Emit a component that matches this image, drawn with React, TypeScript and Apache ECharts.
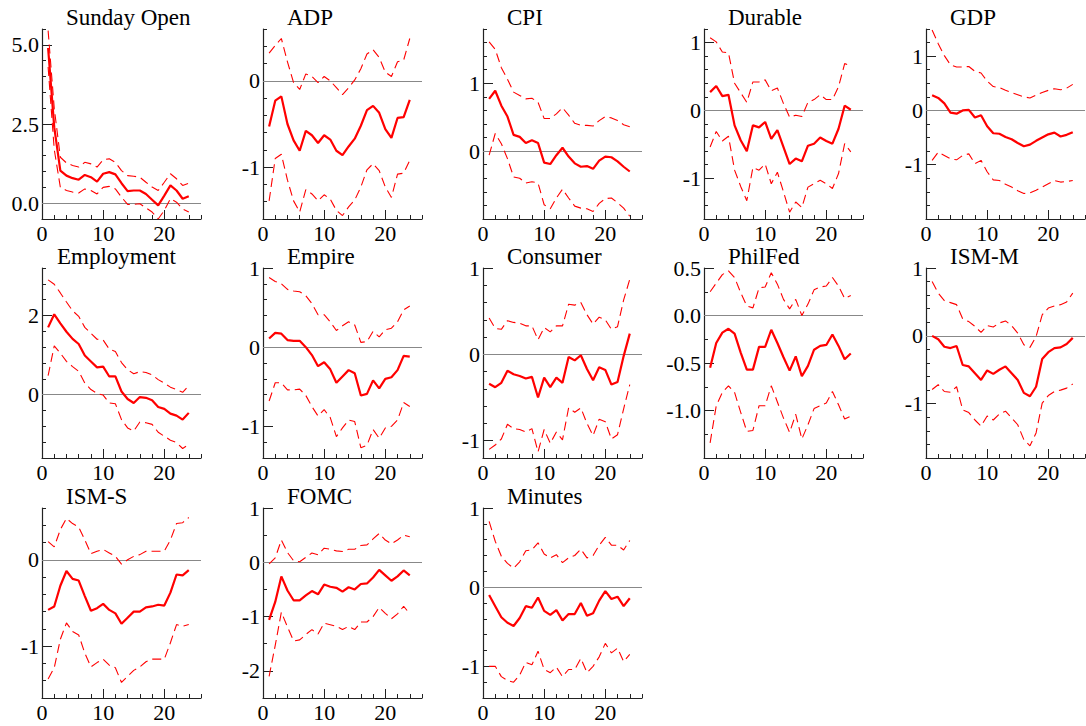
import React, { useEffect, useRef } from "react";
import * as echarts from "echarts";

const horizons = [1, 2, 3, 4, 5, 6, 7, 8, 9, 10, 11, 12, 13, 14, 15, 16, 17, 18, 19, 20, 21, 22, 23, 24];
const xTickLabels = [0, 10, 20];

const sundayMid = [4.9, 2.4, 1.03, 0.87, 0.79, 0.74, 0.89, 0.82, 0.68, 0.93, 0.98, 0.91, 0.63, 0.38, 0.4, 0.4, 0.29, 0.11, -0.07, 0.24, 0.56, 0.4, 0.14, 0.22];
const sundayUp = [5.45, 3.0, 1.45, 1.27, 1.19, 1.14, 1.29, 1.24, 1.14, 1.37, 1.4, 1.29, 1.03, 0.87, 0.85, 0.82, 0.66, 0.51, 0.4, 0.66, 0.93, 0.77, 0.56, 0.63];
const sundayLo = [4.3, 1.7, 0.5, 0.4, 0.35, 0.32, 0.45, 0.4, 0.29, 0.5, 0.53, 0.45, 0.19, -0.04, -0.04, -0.02, -0.15, -0.28, -0.5, -0.23, 0.14, 0.03, -0.18, -0.28];

const adpMid = [-0.53, -0.23, -0.18, -0.5, -0.69, -0.81, -0.58, -0.63, -0.72, -0.63, -0.68, -0.81, -0.86, -0.76, -0.67, -0.52, -0.34, -0.29, -0.37, -0.56, -0.66, -0.43, -0.42, -0.22];
const adpUp = [0.32, 0.41, 0.49, 0.22, -0.02, -0.1, 0.08, 0.05, -0.02, 0.05, 0.0, -0.08, -0.16, -0.08, 0.01, 0.14, 0.31, 0.36, 0.27, 0.1, 0.05, 0.22, 0.24, 0.49];
const adpLo = [-1.39, -0.9, -0.85, -1.15, -1.39, -1.52, -1.26, -1.31, -1.39, -1.32, -1.37, -1.5, -1.56, -1.46, -1.38, -1.23, -1.03, -0.96, -1.04, -1.23, -1.35, -1.08, -1.07, -0.92];

const cpiMid = [0.77, 0.89, 0.67, 0.51, 0.24, 0.21, 0.12, 0.16, 0.12, -0.17, -0.19, -0.06, 0.05, -0.08, -0.18, -0.23, -0.22, -0.26, -0.14, -0.08, -0.09, -0.15, -0.23, -0.3];
const cpiUp = [1.61, 1.5, 1.23, 1.06, 0.87, 0.82, 0.77, 0.78, 0.72, 0.48, 0.48, 0.55, 0.64, 0.53, 0.41, 0.38, 0.38, 0.37, 0.45, 0.51, 0.49, 0.45, 0.39, 0.36];
const cpiLo = [-0.06, 0.26, 0.11, -0.11, -0.38, -0.4, -0.47, -0.45, -0.47, -0.79, -0.85, -0.69, -0.56, -0.69, -0.81, -0.84, -0.85, -0.89, -0.77, -0.7, -0.69, -0.76, -0.84, -0.96];

const durableMid = [0.27, 0.36, 0.21, 0.23, -0.22, -0.44, -0.6, -0.22, -0.25, -0.17, -0.42, -0.29, -0.54, -0.79, -0.71, -0.75, -0.52, -0.49, -0.4, -0.45, -0.49, -0.27, 0.07, 0.01];
const durableUp = [1.07, 1.01, 0.86, 0.85, 0.4, 0.26, 0.12, 0.42, 0.42, 0.45, 0.29, 0.33, 0.1, -0.1, -0.07, -0.09, 0.12, 0.16, 0.23, 0.16, 0.16, 0.35, 0.69, 0.66];
const durableLo = [-0.54, -0.31, -0.45, -0.38, -0.88, -1.12, -1.33, -0.84, -0.88, -0.79, -1.08, -0.91, -1.2, -1.5, -1.35, -1.43, -1.13, -1.08, -1.03, -1.08, -1.15, -0.93, -0.49, -0.61];

const gdpMid = [0.28, 0.23, 0.13, -0.04, -0.06, 0.0, 0.01, -0.13, -0.09, -0.29, -0.42, -0.43, -0.49, -0.53, -0.6, -0.66, -0.63, -0.56, -0.5, -0.44, -0.41, -0.48, -0.45, -0.4];
const gdpUp = [1.48, 1.23, 1.01, 0.84, 0.8, 0.8, 0.81, 0.72, 0.69, 0.54, 0.44, 0.42, 0.37, 0.33, 0.29, 0.25, 0.23, 0.28, 0.33, 0.37, 0.4, 0.38, 0.41, 0.48];
const gdpLo = [-0.92, -0.77, -0.83, -0.89, -0.91, -0.83, -0.8, -0.98, -0.92, -1.13, -1.28, -1.29, -1.36, -1.41, -1.48, -1.53, -1.52, -1.47, -1.41, -1.35, -1.29, -1.32, -1.31, -1.29];

const employmentMid = [1.7, 2.03, 1.8, 1.59, 1.41, 1.28, 0.99, 0.84, 0.69, 0.71, 0.46, 0.46, 0.08, -0.11, -0.21, -0.06, -0.08, -0.14, -0.31, -0.36, -0.48, -0.53, -0.63, -0.46];
const employmentUp = [2.9, 2.79, 2.57, 2.34, 2.12, 1.98, 1.7, 1.55, 1.4, 1.38, 1.15, 1.09, 0.81, 0.63, 0.53, 0.58, 0.56, 0.5, 0.38, 0.29, 0.19, 0.13, 0.06, 0.23];
const employmentLo = [0.48, 1.23, 1.05, 0.84, 0.71, 0.59, 0.29, 0.13, 0.03, -0.01, -0.21, -0.23, -0.63, -0.84, -0.92, -0.69, -0.71, -0.75, -0.95, -1.05, -1.15, -1.21, -1.36, -1.26];

const empireMid = [0.11, 0.18, 0.17, 0.09, 0.08, 0.08, 0.0, -0.1, -0.24, -0.19, -0.28, -0.45, -0.37, -0.29, -0.33, -0.61, -0.59, -0.42, -0.52, -0.4, -0.38, -0.29, -0.11, -0.12];
const empireUp = [0.88, 0.83, 0.8, 0.73, 0.71, 0.7, 0.65, 0.55, 0.41, 0.41, 0.32, 0.21, 0.27, 0.32, 0.28, 0.06, 0.07, 0.2, 0.13, 0.22, 0.24, 0.32, 0.47, 0.52];
const empireLo = [-0.68, -0.45, -0.45, -0.54, -0.54, -0.53, -0.61, -0.75, -0.87, -0.79, -0.89, -1.13, -1.02, -0.92, -0.94, -1.27, -1.24, -1.04, -1.15, -1.02, -1.0, -0.92, -0.7, -0.75];

const consumerMid = [-0.34, -0.38, -0.33, -0.19, -0.23, -0.25, -0.28, -0.26, -0.5, -0.27, -0.38, -0.27, -0.33, -0.03, -0.07, -0.01, -0.17, -0.3, -0.15, -0.18, -0.35, -0.32, -0.02, 0.24];
const consumerUp = [0.42, 0.3, 0.29, 0.39, 0.37, 0.36, 0.33, 0.33, 0.17, 0.31, 0.26, 0.33, 0.33, 0.58, 0.57, 0.6, 0.46, 0.35, 0.43, 0.4, 0.29, 0.32, 0.63, 0.87];
const consumerLo = [-1.1, -1.05, -0.98, -0.81, -0.86, -0.87, -0.9, -0.86, -1.13, -0.87, -1.03, -0.9, -0.99, -0.62, -0.67, -0.62, -0.8, -0.94, -0.75, -0.78, -0.98, -0.93, -0.63, -0.35];

const philfedMid = [-0.55, -0.29, -0.18, -0.14, -0.19, -0.39, -0.57, -0.57, -0.33, -0.33, -0.15, -0.29, -0.44, -0.58, -0.43, -0.64, -0.53, -0.36, -0.32, -0.31, -0.2, -0.32, -0.46, -0.4];
const philfedUp = [0.25, 0.34, 0.43, 0.47, 0.4, 0.24, 0.1, 0.08, 0.29, 0.3, 0.45, 0.33, 0.17, 0.07, 0.17, 0.0, 0.12, 0.27, 0.3, 0.31, 0.4, 0.31, 0.18, 0.21];
const philfedLo = [-1.34, -0.95, -0.81, -0.74, -0.81, -1.02, -1.22, -1.21, -0.95, -0.95, -0.74, -0.91, -1.08, -1.23, -1.04, -1.3, -1.15, -0.98, -0.95, -0.92, -0.8, -0.94, -1.09, -1.06];

const ismmMid = [0.0, -0.05, -0.16, -0.18, -0.15, -0.43, -0.45, -0.55, -0.65, -0.51, -0.56, -0.5, -0.45, -0.55, -0.65, -0.84, -0.89, -0.75, -0.34, -0.24, -0.18, -0.17, -0.12, -0.03];
const ismmUp = [0.8, 0.63, 0.52, 0.49, 0.46, 0.25, 0.21, 0.14, 0.05, 0.15, 0.13, 0.19, 0.22, 0.15, 0.04, -0.13, -0.17, -0.01, 0.31, 0.41, 0.44, 0.46, 0.5, 0.63];
const ismmLo = [-0.79, -0.72, -0.82, -0.83, -0.75, -1.09, -1.13, -1.24, -1.33, -1.18, -1.24, -1.15, -1.11, -1.21, -1.31, -1.53, -1.62, -1.43, -0.99, -0.88, -0.82, -0.8, -0.77, -0.71];

const ismsMid = [-0.58, -0.54, -0.3, -0.13, -0.22, -0.24, -0.42, -0.59, -0.56, -0.51, -0.58, -0.62, -0.74, -0.67, -0.6, -0.6, -0.55, -0.54, -0.52, -0.53, -0.38, -0.17, -0.18, -0.12];
const ismsUp = [0.21, 0.15, 0.35, 0.48, 0.42, 0.38, 0.23, 0.07, 0.1, 0.12, 0.08, 0.04, -0.05, 0.0, 0.04, 0.06, 0.1, 0.1, 0.1, 0.1, 0.23, 0.42, 0.43, 0.49];
const ismsLo = [-1.38, -1.25, -0.92, -0.73, -0.83, -0.87, -1.08, -1.24, -1.19, -1.15, -1.22, -1.25, -1.42, -1.35, -1.28, -1.24, -1.18, -1.15, -1.15, -1.15, -0.96, -0.75, -0.77, -0.75];

const fomcMid = [-1.06, -0.73, -0.26, -0.52, -0.7, -0.7, -0.61, -0.53, -0.59, -0.41, -0.45, -0.47, -0.54, -0.46, -0.5, -0.4, -0.39, -0.28, -0.14, -0.24, -0.34, -0.26, -0.15, -0.24];
const fomcUp = [-0.03, 0.08, 0.41, 0.18, 0.03, 0.01, 0.09, 0.17, 0.14, 0.26, 0.24, 0.21, 0.2, 0.24, 0.24, 0.31, 0.32, 0.43, 0.53, 0.41, 0.34, 0.41, 0.5, 0.47];
const fomcLo = [-2.1, -1.53, -0.92, -1.19, -1.45, -1.43, -1.33, -1.24, -1.32, -1.12, -1.15, -1.18, -1.24, -1.18, -1.24, -1.1, -1.1, -1.0, -0.83, -0.94, -1.04, -0.95, -0.81, -0.95];

const minutesMid = [-0.1, -0.24, -0.38, -0.45, -0.49, -0.39, -0.24, -0.26, -0.13, -0.3, -0.35, -0.29, -0.42, -0.34, -0.34, -0.2, -0.36, -0.33, -0.17, -0.05, -0.15, -0.12, -0.24, -0.14];
const minutesUp = [0.83, 0.58, 0.39, 0.3, 0.24, 0.32, 0.46, 0.47, 0.56, 0.42, 0.37, 0.41, 0.31, 0.37, 0.4, 0.48, 0.37, 0.4, 0.53, 0.63, 0.53, 0.53, 0.47, 0.59];
const minutesLo = [-1.0, -1.0, -1.13, -1.18, -1.2, -1.11, -0.95, -0.98, -0.81, -1.04, -1.08, -1.01, -1.13, -1.04, -1.04, -0.9, -1.08, -1.0, -0.88, -0.71, -0.83, -0.77, -0.94, -0.85];

type Panel = {
  title: string; mid: number[]; up: number[]; lo: number[];
  min: number; max: number; step: number; majors: number[]; dec: number; titleDx?: number;
};

const panels: Panel[] = [
  { title: "Sunday Open", mid: sundayMid, up: sundayUp, lo: sundayLo, min: -0.5, max: 5.5, step: 0.5, majors: [0, 2.5, 5], dec: 1 },
  { title: "ADP", mid: adpMid, up: adpUp, lo: adpLo, min: -1.6, max: 0.6, step: 0.2, majors: [-1, 0], dec: 0 },
  { title: "CPI", mid: cpiMid, up: cpiUp, lo: cpiLo, min: -1, max: 1.8, step: 0.2, majors: [0, 1], dec: 0 },
  { title: "Durable", mid: durableMid, up: durableUp, lo: durableLo, min: -1.6, max: 1.2, step: 0.2, majors: [-1, 0, 1], dec: 0 },
  { title: "GDP", mid: gdpMid, up: gdpUp, lo: gdpLo, min: -2, max: 1.5, step: 0.25, majors: [-1, 0, 1], dec: 0 },
  { title: "Employment", mid: employmentMid, up: employmentUp, lo: employmentLo, min: -1.6, max: 3.2, step: 0.4, majors: [0, 2], dec: 0, titleDx: -9 },
  { title: "Empire", mid: empireMid, up: empireUp, lo: empireLo, min: -1.4, max: 1, step: 0.2, majors: [-1, 0, 1], dec: 0 },
  { title: "Consumer", mid: consumerMid, up: consumerUp, lo: consumerLo, min: -1.2, max: 1, step: 0.2, majors: [-1, 0, 1], dec: 0 },
  { title: "PhilFed", mid: philfedMid, up: philfedUp, lo: philfedLo, min: -1.5, max: 0.5, step: 0.25, majors: [-1, -0.5, 0, 0.5], dec: 1 },
  { title: "ISM-M", mid: ismmMid, up: ismmUp, lo: ismmLo, min: -1.8, max: 1, step: 0.2, majors: [-1, 0, 1], dec: 0 },
  { title: "ISM-S", mid: ismsMid, up: ismsUp, lo: ismsLo, min: -1.6, max: 0.6, step: 0.2, majors: [-1, 0], dec: 0 },
  { title: "FOMC", mid: fomcMid, up: fomcUp, lo: fomcLo, min: -2.5, max: 1, step: 0.5, majors: [-2, -1, 0, 1], dec: 0 },
  { title: "Minutes", mid: minutesMid, up: minutesUp, lo: minutesLo, min: -1.4, max: 1, step: 0.2, majors: [-1, 0, 1], dec: 0 },
];

const colLefts = [42, 263, 483, 704, 926];
const rowTops = [29, 268, 508];
const PW = 159;
const PH = 190;
const FONT = "Liberation Serif";
const RED = "#ff0000";
const AXIS = "#222";

function buildOption() {
  const grid: any[] = [];
  const xAxis: any[] = [];
  const yAxis: any[] = [];
  const series: any[] = [];
  const title: any[] = [];

  panels.forEach((p, i) => {
    const col = i % 5;
    const row = Math.floor(i / 5);
    const left = colLefts[col];
    const top = rowTops[row];
    grid.push({ left, top, width: PW, height: PH, containLabel: false });

    title.push({
      text: p.title,
      left: left + 24 + (p.titleDx || 0),
      top: top - 23,
      padding: 0,
      textStyle: { fontFamily: FONT, fontSize: 23, fontWeight: "normal", color: "#000" },
    });

    const xBase = { type: "value", gridIndex: i, min: 0, max: 26, interval: 2, position: "bottom", splitLine: { show: false } };
    xAxis.push({
      ...xBase,
      axisLine: { show: true, onZero: false, lineStyle: { color: AXIS, width: 1.2 } },
      axisTick: { show: true, inside: true, length: 4, lineStyle: { color: AXIS, width: 1 } },
      axisLabel: { show: false },
    });
    xAxis.push({
      ...xBase,
      axisLine: { show: false, onZero: false },
      axisTick: { show: true, inside: true, length: 9, customValues: xTickLabels, lineStyle: { color: AXIS, width: 1 } },
      axisLabel: { show: true, customValues: xTickLabels, margin: 3, fontFamily: FONT, fontSize: 22, color: "#000" },
    });

    const yBase = { type: "value", gridIndex: i, min: p.min, max: p.max, interval: p.step, position: "left", splitLine: { show: false } };
    yAxis.push({
      ...yBase,
      axisLine: { show: true, onZero: false, lineStyle: { color: AXIS, width: 1.2 } },
      axisTick: { show: true, inside: true, length: 4, lineStyle: { color: AXIS, width: 1 } },
      axisLabel: { show: false },
    });
    yAxis.push({
      ...yBase,
      axisLine: { show: false, onZero: false },
      axisTick: { show: true, inside: true, length: 10, customValues: p.majors, lineStyle: { color: AXIS, width: 1 } },
      axisLabel: {
        show: true, customValues: p.majors, margin: 3, fontFamily: FONT, fontSize: 22, color: "#000",
        formatter: (v: number) => v.toFixed(p.dec),
      },
    });

    const xi = i * 2;
    const yi = i * 2;
    const toData = (arr: number[]) => horizons.map((h, k) => [h, arr[k]]);
    series.push({
      type: "line", xAxisIndex: xi, yAxisIndex: yi, data: toData(p.mid), showSymbol: false, symbol: "none",
      lineStyle: { color: RED, width: 2.2 }, z: 3,
      markLine: {
        silent: true, symbol: "none", label: { show: false },
        lineStyle: { color: "#888", type: "solid", width: 1.2 },
        data: [{ yAxis: 0 }], z: 1,
      },
    });
    series.push({
      type: "line", xAxisIndex: xi, yAxisIndex: yi, data: toData(p.up), showSymbol: false, symbol: "none",
      lineStyle: { color: RED, width: 1.1, type: [9, 5] }, z: 2,
    });
    series.push({
      type: "line", xAxisIndex: xi, yAxisIndex: yi, data: toData(p.lo), showSymbol: false, symbol: "none",
      lineStyle: { color: RED, width: 1.1, type: [9, 5] }, z: 2,
    });
  });

  return { animation: false, backgroundColor: "#fff", textStyle: { fontFamily: FONT }, title, grid, xAxis, yAxis, series };
}

export default function App() {
  const ref = useRef<HTMLDivElement>(null);
  useEffect(() => {
    if (!ref.current) return;
    const chart = echarts.init(ref.current, undefined, { renderer: "svg" });
    chart.setOption(buildOption() as any);
    return () => chart.dispose();
  }, []);
  return (
    <div
      ref={ref}
      style={{ position: "fixed", left: 0, top: 0, width: 1086, height: 726, background: "#fff" }}
    />
  );
}
